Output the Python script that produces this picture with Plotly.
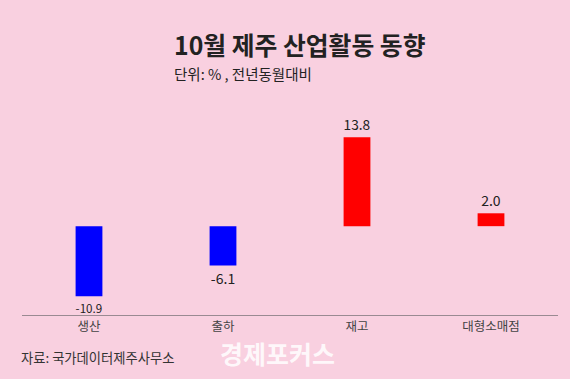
import plotly.graph_objects as go

categories = ["생산", "출하", "재고", "대형소매점"]
values = [-10.9, -6.1, 13.8, 2.0]
labels = ["-10.9", "-6.1", "13.8", "2.0"]

BG = "#F9D0E0"
FONT = "Noto Sans CJK KR"
colors = ["#0000FF" if v < 0 else "#FF0000" for v in values]

fig = go.Figure(go.Bar(
    x=categories, y=values, text=labels, textposition="outside",
    marker=dict(color=colors, line=dict(width=0)),
    width=0.2, cliponaxis=False,
    textfont=dict(family=FONT, size=14, color="#222222"),
))

W, H = 570, 379
l, r, t, b = 22, 12, 100, 64

fig.update_layout(
    width=W, height=H,
    margin=dict(l=l, r=r, t=t, b=b),
    paper_bgcolor=BG, plot_bgcolor=BG,
    font=dict(family=FONT),
    showlegend=False,
    xaxis=dict(showline=True, linecolor="#9a8a92", linewidth=1, ticks="",
               tickfont=dict(family=FONT, size=12.5, color="#444444"), showgrid=False),
    yaxis=dict(range=[-13.8, 19.6], visible=False, showgrid=False, zeroline=False),
)

# annotations placed at pixel positions, converted into paper coordinates
pw, ph = W - l - r, H - t - b
def px(x, y, text, size, color, anchor="left", weight=None):
    if weight:
        text = f"<b>{text}</b>"
    fig.add_annotation(text=text, x=(x - l) / pw, y=(H - b - y) / ph,
                       xref="paper", yref="paper", xanchor=anchor, yanchor="middle",
                       showarrow=False, font=dict(family=FONT, size=size, color=color))

px(300, 44, "10월 제주 산업활동 동향", 24.8, "#222222", anchor="center", weight=True)
px(172, 73, "단위: % , 전년동월대비", 14.5, "#222222")
px(19, 357, "자료: 국가데이터제주사무소", 13.3, "#333333")
px(218, 353, "경제포커스", 25, "rgba(255,255,255,0.85)", weight=True)

fig.write_html("out.html", config={"displayModeBar": False},
               post_script="document.body.style.margin='0';document.body.style.padding='0';")
